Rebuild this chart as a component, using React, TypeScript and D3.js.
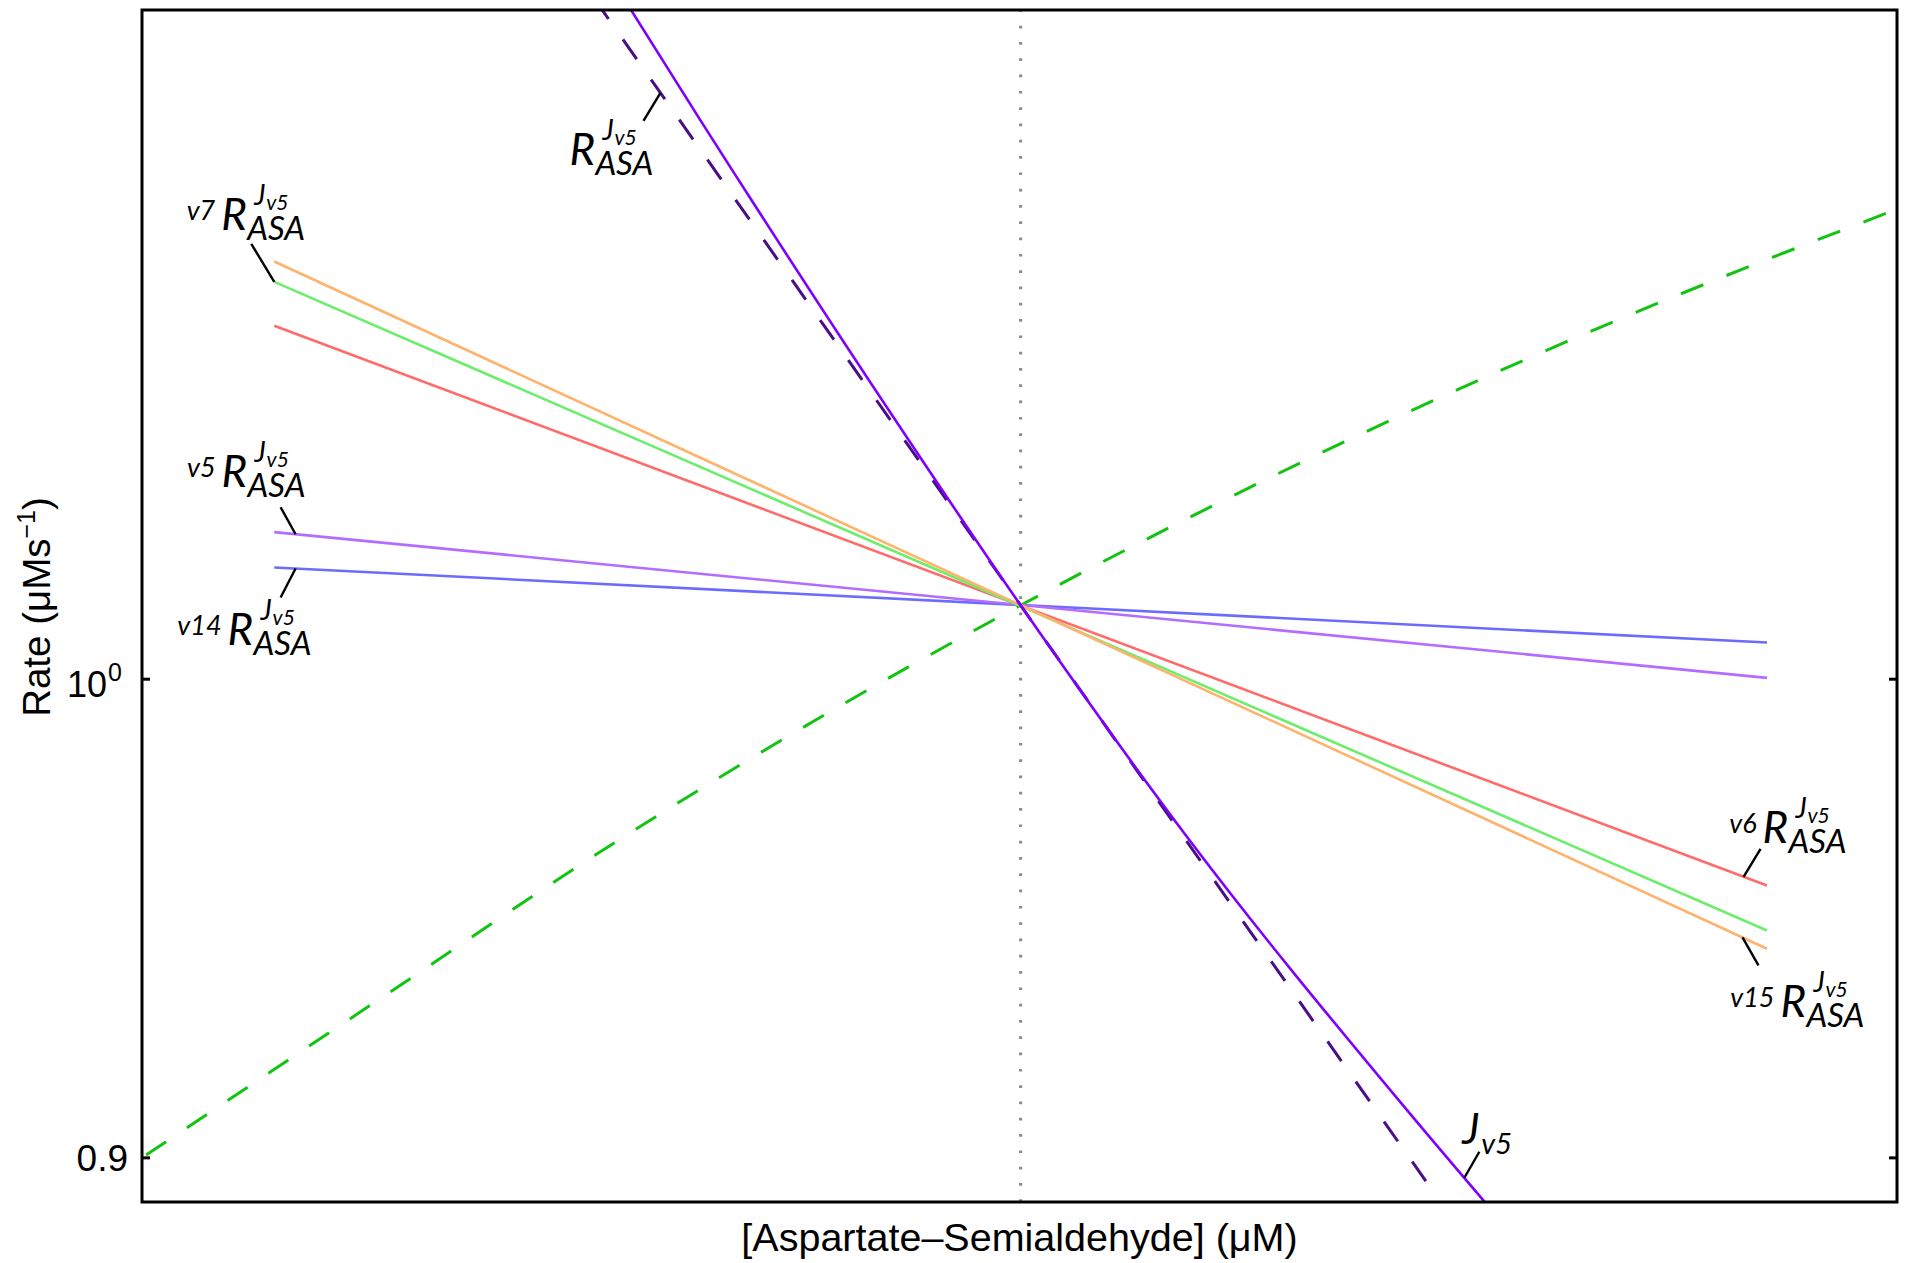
import React from "react";
import * as d3 from "d3";

const WIDTH = 1906;
const HEIGHT = 1263;
const plot = { left: 142, top: 10, right: 1897, bottom: 1202 };

// Axis domains (log–log), relative ASA concentration with steady state at 1
const asaDomain = [0.4422, 2.2567];
const rateDomain = [0.8913, 1.1587];
const rateTicks = [0.9, 1];
const steadyASA = 1;

// Partial response lines, evaluated at half and double the steady-state ASA
const partialASA = [0.5, 2];
const partialV15 = [1.0963, 0.9424];
const partialV7 = [1.0914, 0.9462];
const partialV6 = [1.0809, 0.9556];
const partialV5 = [1.0329, 1.0003];
const partialV14 = [1.0249, 1.0081];

// Flux J_v5 as a function of ASA
const fluxASA = [0.677, 0.7428, 0.8878, 1, 1.1674, 1.4234, 1.5621];
const fluxV5 = [1.1711, 1.1309, 1.0597, 1.0164, 0.9658, 0.911, 0.8876];

// Total response (tangent of J_v5 at the steady state)
const totalASA = [0.65, 1, 1.457];
const totalV5 = [1.1753, 1.0164, 0.8954];

// Green dashed rate curve
const supplyASA = [0.4422, 0.5517, 0.687, 0.83, 1, 1.297, 1.714, 2.2567];
const supplyRate = [0.9, 0.9321, 0.9649, 0.9916, 1.0164, 1.0488, 1.0806, 1.109];

type Series = { key: string; xs: number[]; ys: number[] };

const partials = [
  { key: "v14", xs: partialASA, ys: partialV14, color: "#6b6bff" },
  { key: "v5", xs: partialASA, ys: partialV5, color: "#b46bff" },
  { key: "v6", xs: partialASA, ys: partialV6, color: "#ff6b6b" },
  { key: "v7", xs: partialASA, ys: partialV7, color: "#6cee6c" },
  { key: "v15", xs: partialASA, ys: partialV15, color: "#ffb26b" },
];

const seriesByKey: Record<string, Series> = {
  total: { key: "total", xs: totalASA, ys: totalV5 },
  flux: { key: "flux", xs: fluxASA, ys: fluxV5 },
};
partials.forEach((p) => (seriesByKey[p.key] = p));

// Label callouts: anchored on a series at an ASA value, offsets in pixels
const callouts = [
  { series: "total", at: 0.7157, lead: [-17, 28], text: [-91, 72], prefix: "" },
  { series: "v7", at: 0.5, lead: [-23, -38], text: [-53, -52], prefix: "v7" },
  { series: "v5", at: 0.51, lead: [-15, -27], text: [-74, -47], prefix: "v5" },
  { series: "v14", at: 0.51, lead: [-15, 29], text: [-68, 76], prefix: "v14" },
  { series: "v6", at: 1.957, lead: [17, -28], text: [19, -34], prefix: "v6" },
  { series: "v15", at: 1.955, lead: [16, 28], text: [38, 80], prefix: "v15" },
];
const fluxCallout = { series: "flux", at: 1.51, lead: [15, -26], text: [-2, -34] };

// log–log interpolation along a series
function rateAt(s: Series, v: number) {
  const lx = s.xs.map(Math.log);
  const ly = s.ys.map(Math.log);
  const t = Math.log(v);
  let i = 0;
  while (i < lx.length - 2 && t > lx[i + 1]) i++;
  const f = (t - lx[i]) / (lx[i + 1] - lx[i]);
  return Math.exp(ly[i] + f * (ly[i + 1] - ly[i]));
}

const labelFont = "Lato, 'DejaVu Sans', sans-serif";
const axisFont = "'Liberation Sans', Arial, Helvetica, sans-serif";

// R^{J_v5}_{ASA} with an optional step prefix, as one text element
function ResponseLabel({ x, y, prefix }: { x: number; y: number; prefix: string }) {
  return (
    <text fontFamily={labelFont} fontStyle="italic" fill="#000">
      {prefix && (
        <tspan x={x - 6} y={y - 10} fontSize={27} textAnchor="end">
          {prefix}
        </tspan>
      )}
      <tspan x={x} y={y} fontSize={44}>R</tspan>
      <tspan x={x + 26} y={y + 10} fontSize={33}>ASA</tspan>
      <tspan x={x + 33} y={y - 25} fontSize={28}>J</tspan>
      <tspan x={x + 45} y={y - 20} fontSize={21}>v5</tspan>
    </text>
  );
}

export default function App() {
  const x = d3.scaleLog().domain(asaDomain).range([plot.left, plot.right]);
  const y = d3.scaleLog().domain(rateDomain).range([plot.bottom, plot.top]);

  const pathOf = (xs: number[], ys: number[], curve: d3.CurveFactory = d3.curveLinear) =>
    d3
      .line<number>()
      .curve(curve)
      .x((d) => x(d))
      .y((_, i) => y(ys[i]))(xs) || "";

  const anchor = (series: string, at: number) => {
    const s = seriesByKey[series];
    return [x(at), y(rateAt(s, at))];
  };

  const lw = 2.6;

  return (
    <svg
      width={WIDTH}
      height={HEIGHT}
      style={{ position: "absolute", left: 0, top: 0, display: "block", background: "#fff" }}
    >
      <defs>
        <clipPath id="plotArea">
          <rect x={plot.left} y={plot.top} width={plot.right - plot.left} height={plot.bottom - plot.top} />
        </clipPath>
      </defs>
      <rect x={0} y={0} width={WIDTH} height={HEIGHT} fill="#fff" />

      <g clipPath="url(#plotArea)">
        {/* steady-state marker */}
        <line
          x1={x(steadyASA)}
          x2={x(steadyASA)}
          y1={plot.bottom}
          y2={plot.top}
          stroke="#8a8a8a"
          strokeWidth={3}
          strokeDasharray="2.7 13.6"
        />
        <path
          d={pathOf(supplyASA, supplyRate, d3.curveMonotoneX)}
          fill="none"
          stroke="#12c312"
          strokeWidth={3}
          strokeDasharray="24 25"
          strokeDashoffset={44}
        />
        {partials.map((p) => (
          <path key={p.key} d={pathOf(p.xs, p.ys)} fill="none" stroke={p.color} strokeWidth={lw} />
        ))}
        <path
          d={pathOf(totalASA, totalV5)}
          fill="none"
          stroke="#4a0f86"
          strokeWidth={3}
          strokeDasharray="24 25"
          strokeDashoffset={32}
        />
        <path
          d={pathOf(fluxASA, fluxV5, d3.curveMonotoneX)}
          fill="none"
          stroke="#7f00ff"
          strokeWidth={2.6}
        />
      </g>

      {/* frame */}
      <rect
        x={plot.left}
        y={plot.top}
        width={plot.right - plot.left}
        height={plot.bottom - plot.top}
        fill="none"
        stroke="#000"
        strokeWidth={3}
      />

      {/* y ticks */}
      {rateTicks.map((t) => (
        <g key={t}>
          <line x1={plot.left} x2={plot.left + 8} y1={y(t)} y2={y(t)} stroke="#000" strokeWidth={3} />
          <line x1={plot.right - 8} x2={plot.right} y1={y(t)} y2={y(t)} stroke="#000" strokeWidth={3} />
          {t === 1 ? (
            <text fontFamily={axisFont} fill="#000">
              <tspan x={107} y={y(t) + 18} fontSize={36} textAnchor="end">10</tspan>
              <tspan x={108} y={y(t) + 2} fontSize={25}>0</tspan>
            </text>
          ) : (
            <text x={128} y={y(t) + 13} fontSize={37} textAnchor="end" fontFamily={axisFont}>
              {d3.format(".1f")(t)}
            </text>
          )}
        </g>
      ))}

      {/* axis titles */}
      <text
        x={(plot.left + plot.right) / 2}
        y={1251}
        fontSize={39.5}
        textAnchor="middle"
        fontFamily={axisFont}
      >
        [Aspartate–Semialdehyde] (μM)
      </text>
      <text
        transform={`translate(50, 607) rotate(-90)`}
        fontSize={38.5}
        textAnchor="middle"
        fontFamily={axisFont}
      >
        Rate (μMs
        <tspan fontSize={25} dy={-15}>−1</tspan>
        <tspan dy={15}>)</tspan>
      </text>

      {/* callouts */}
      {callouts.map((c) => {
        const [ax, ay] = anchor(c.series, c.at);
        return (
          <g key={c.series}>
            <line x1={ax} y1={ay} x2={ax + c.lead[0]} y2={ay + c.lead[1]} stroke="#000" strokeWidth={2.4} />
            <ResponseLabel x={ax + c.text[0]} y={ay + c.text[1]} prefix={c.prefix} />
          </g>
        );
      })}
      {(() => {
        const [ax, ay] = anchor(fluxCallout.series, fluxCallout.at);
        const lx = ax + fluxCallout.text[0];
        const ly = ay + fluxCallout.text[1];
        return (
          <g>
            <line
              x1={ax}
              y1={ay}
              x2={ax + fluxCallout.lead[0]}
              y2={ay + fluxCallout.lead[1]}
              stroke="#000"
              strokeWidth={2.4}
            />
            <text fontFamily={labelFont} fontStyle="italic">
              <tspan x={lx} y={ly} fontSize={43}>J</tspan>
              <tspan x={lx + 19} y={ly + 10} fontSize={29}>v5</tspan>
            </text>
          </g>
        );
      })()}
    </svg>
  );
}
